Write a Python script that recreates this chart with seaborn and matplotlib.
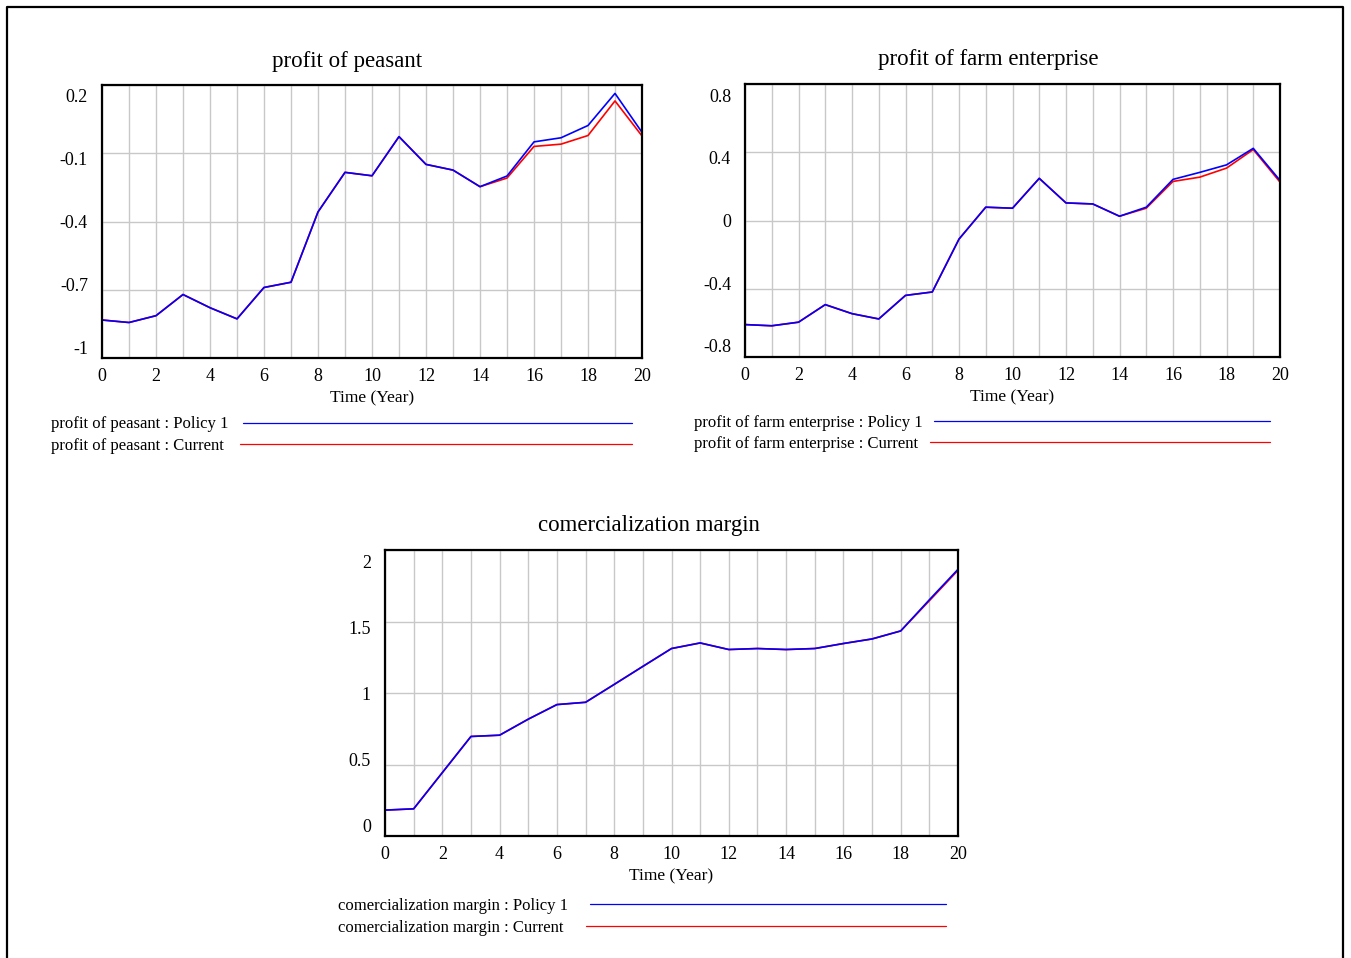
import pandas as pd
import matplotlib
matplotlib.use("Agg")
import matplotlib.pyplot as plt
import seaborn as sns
from matplotlib.lines import Line2D
from matplotlib.transforms import offset_copy

# Simulation output (Time in years)
years = list(range(21))

peasant_policy = [-0.833, -0.844, -0.814, -0.721, -0.779, -0.828, -0.690, -0.667, -0.358, -0.184,
                  -0.199, -0.027, -0.149, -0.174, -0.247, -0.200, -0.050, -0.032, 0.022, 0.163, -0.008]
peasant_current = [-0.833, -0.844, -0.814, -0.721, -0.779, -0.828, -0.690, -0.667, -0.358, -0.184,
                   -0.199, -0.027, -0.149, -0.174, -0.247, -0.209, -0.070, -0.060, -0.022, 0.130, -0.024]

farm_policy = [-0.610, -0.617, -0.596, -0.493, -0.546, -0.577, -0.439, -0.419, -0.109, 0.078,
               0.072, 0.247, 0.103, 0.097, 0.025, 0.078, 0.241, 0.282, 0.326, 0.423, 0.235]
farm_current = [-0.610, -0.617, -0.596, -0.493, -0.546, -0.577, -0.439, -0.419, -0.109, 0.078,
                0.072, 0.247, 0.103, 0.097, 0.025, 0.072, 0.229, 0.254, 0.307, 0.416, 0.225]

margin_policy = [0.181, 0.190, 0.443, 0.696, 0.705, 0.817, 0.919, 0.935, 1.060, 1.186,
                 1.311, 1.350, 1.304, 1.311, 1.304, 1.311, 1.346, 1.378, 1.434, 1.652, 1.865]
margin_current = [0.181, 0.190, 0.443, 0.696, 0.705, 0.817, 0.919, 0.935, 1.060, 1.186,
                  1.311, 1.350, 1.304, 1.311, 1.304, 1.311, 1.346, 1.378, 1.434, 1.645, 1.858]

peasant_yticks = [0.2, -0.1, -0.4, -0.7, -1]
peasant_ylabels = ["0.2", "-0.1", "-0.4", "-0.7", "-1"]
farm_yticks = [0.8, 0.4, 0, -0.4, -0.8]
farm_ylabels = ["0.8", "0.4", "0", "-0.4", "-0.8"]
margin_yticks = [2, 1.5, 1, 0.5, 0]
margin_ylabels = ["2", "1.5", "1", "0.5", "0"]

runs = ["Current", "Policy 1"]
colors = {"Current": "#ff0000", "Policy 1": "#0000ff"}

sns.set_theme(style="white")
plt.rcParams['font.family'] = ['Liberation Serif', 'DejaVu Serif']
plt.rcParams['text.color'] = 'black'
plt.rcParams['xtick.color'] = 'black'
plt.rcParams['ytick.color'] = 'black'
plt.rcParams['axes.labelcolor'] = 'black'

W, H = 1351, 958
fig = plt.figure(figsize=(W / 100, H / 100), dpi=100)


def fx(x):
    return x / W


def fy(y):
    return 1 - y / H


panels = [
    dict(name="profit of peasant", box=(102, 85, 642, 358), title_at=(347, 62),
         pol=peasant_policy, cur=peasant_current, ylim=(-1, 0.2),
         yticks=peasant_yticks, ylabels=peasant_ylabels,
         leg=(51, 424, 446, 243, 240, 632, 423, 444)),
    dict(name="profit of farm enterprise", box=(745, 84, 1280, 357), title_at=(988, 60),
         pol=farm_policy, cur=farm_current, ylim=(-0.8, 0.8),
         yticks=farm_yticks, ylabels=farm_ylabels,
         leg=(694, 423, 444, 934, 930, 1270, 421, 442)),
    dict(name="comercialization margin", box=(385, 550, 958, 836), title_at=(649, 525),
         pol=margin_policy, cur=margin_current, ylim=(0, 2),
         yticks=margin_yticks, ylabels=margin_ylabels,
         leg=(338, 906, 928, 590, 586, 946, 904, 926)),
]

for p in panels:
    l, t, r, b = p["box"]
    ax = fig.add_axes([fx(l), fy(b), (r - l) / W, (b - t) / H])

    df = pd.DataFrame({
        "Time": years * 2,
        "value": p["cur"] + p["pol"],
        "run": ["Current"] * len(years) + ["Policy 1"] * len(years),
    })
    sns.lineplot(data=df, x="Time", y="value", hue="run", hue_order=runs,
                 palette=colors, legend=False, linewidth=1.2, ax=ax)

    ax.set_xlim(0, 20)
    ax.set_ylim(*p["ylim"])
    ax.set_xticks(range(0, 21, 2))
    ax.set_xticks(range(21), minor=True)
    ax.set_yticks(p["yticks"])
    ax.set_yticklabels([])
    ax.tick_params(axis="both", which="both", length=0)
    ax.tick_params(axis="x", labelsize=13, pad=7)
    ax.set_axisbelow(True)
    ax.grid(True, which="both", axis="x", color="#c8c8c8", lw=1)
    ax.grid(True, which="major", axis="y", color="#c8c8c8", lw=1)
    for s in ax.spines.values():
        s.set_color("black")
        s.set_linewidth(1.6)

    ax.set_xlabel("Time (Year)", fontsize=12.5, labelpad=4)
    ax.set_ylabel("")

    tx_, ty_ = p["title_at"]
    fig.text(fx(tx_), fy(ty_), p["name"], fontsize=16.5, ha="center", va="center")

    # Vensim-style y labels, squeezed slightly inside the axis range
    ymin, ymax = p["ylim"]
    trans = offset_copy(ax.transAxes, fig=fig, x=-14, y=-2, units="dots")
    inset = 11 / (b - t)
    for v, lab in zip(p["yticks"], p["ylabels"]):
        frac = (v - ymin) / (ymax - ymin)
        ax.text(0, inset + (1 - 2 * inset) * frac, lab, transform=trans,
                ha="right", va="center", fontsize=13)

    # legend block under each chart
    tx, y1, y2, s1, s2, e, ly1, ly2 = p["leg"]
    fig.text(fx(tx), fy(y1), p["name"] + " : Policy 1", fontsize=12, va="center")
    fig.text(fx(tx), fy(y2), p["name"] + " : Current", fontsize=12, va="center")
    fig.add_artist(Line2D([fx(s1), fx(e)], [fy(ly1), fy(ly1)], color="#0000ff", lw=0.9))
    fig.add_artist(Line2D([fx(s2), fx(e)], [fy(ly2), fy(ly2)], color="#ff0000", lw=0.9))

# outer frame (open at the bottom)
fig.add_artist(Line2D([fx(7), fx(7), fx(1343), fx(1343)], [0, fy(7), fy(7), 0],
                      color="black", lw=1.6))

fig.savefig("out.png", dpi=100)
